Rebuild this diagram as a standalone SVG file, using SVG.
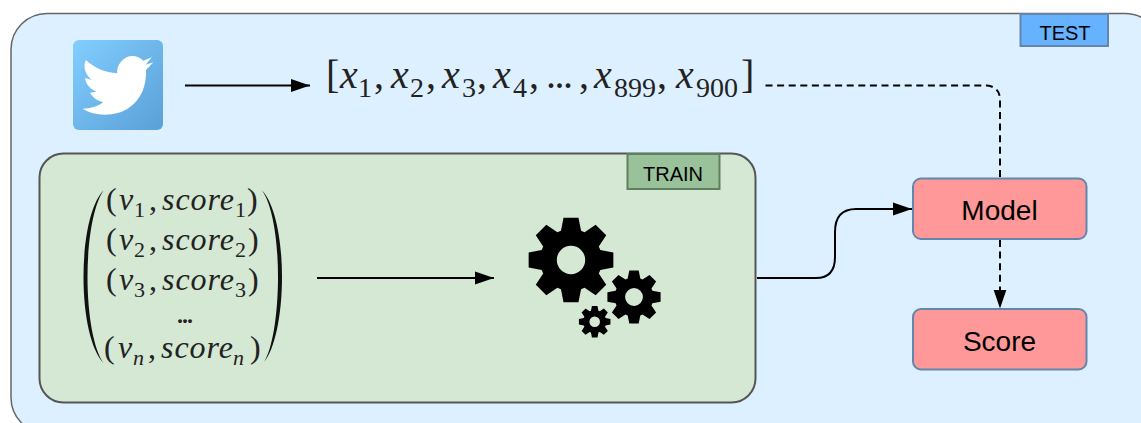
<svg xmlns="http://www.w3.org/2000/svg" xmlns:xlink="http://www.w3.org/1999/xlink" width="1141" height="423" viewBox="0 0 1141 423">
<style>
text{fill:#000;font-family:"Liberation Sans",Arial,sans-serif}
.m{font-family:"Liberation Serif","Times New Roman",serif;fill:#222}
.i{font-style:italic}
.x{font-size:40px}
.s{font-size:28px}
.v{font-size:32px}
.r{font-size:22px}
.box{fill:#FF9999;stroke:#6385AE;stroke-width:2}
.lab{font-size:28px;text-anchor:middle}
.tag{font-size:20px;text-anchor:middle}
.c{fill:none;stroke:#000;stroke-width:2}
.d{stroke-dasharray:7 4.6}
</style>
<defs>
<linearGradient id="tw" x1="0" y1="0" x2="1" y2="1"><stop offset="0" stop-color="#84CDFF"/><stop offset="1" stop-color="#58A0D6"/></linearGradient>
<marker id="a" markerUnits="userSpaceOnUse" markerWidth="20" markerHeight="14" refX="19" refY="7" orient="auto"><path d="M0 0.5L19 7L0 13.5Z" fill="#000"/></marker>
<path id="g" fill-rule="evenodd" d="M68.1-23.4L98.5-17.4L98.5 17.4L68.1 23.4L64.7 31.6L81.9 57.4L57.4 81.9L31.6 64.7L23.4 68.1L17.4 98.5L-17.4 98.5L-23.4 68.1L-31.6 64.7L-57.4 81.9L-81.9 57.4L-64.7 31.6L-68.1 23.4L-98.5 17.4L-98.5-17.4L-68.1-23.4L-64.7-31.6L-81.9-57.4L-57.4-81.9L-31.6-64.7L-23.4-68.1L-17.4-98.5L17.4-98.5L23.4-68.1L31.6-64.7L57.4-81.9L81.9-57.4L64.7-31.6ZM33 0A33 33 0 1 0-33 0A33 33 0 1 0 33 0Z"/>
</defs>
<g id="test">
<rect x="11" y="13.5" width="1150" height="420" rx="36" fill="#DDF0FF" stroke="#666" stroke-width="1.5"/>
<rect x="1020.5" y="14" width="87.5" height="32" fill="#66B2FF" stroke="#6385AE" stroke-width="2"/>
<text class="tag" x="1065" y="39.5">TEST</text>
</g>
<g id="twitter">
<rect x="73" y="40" width="90" height="90" rx="6" fill="url(#tw)"/>
<path transform="translate(60 30) scale(.33333)" fill="#fff" d="M68 236C100 258 165 262 205 235C245 208 260 165 258 120L280 97L257 104L275 82L250 92C235 76 205 72 188 90C175 103 170 115 172 130C135 128 100 112 78 90C68 108 75 132 95 150L75 144C78 165 92 178 110 185L90 188C100 205 115 213 130 216C112 230 90 236 68 236Z"/>
</g>
<g id="vector">
<text class="m x" x="326" y="88">[</text>
<text class="m i x" x="340" y="88">x</text><text class="m s" x="358" y="97">1</text><text class="m x" x="374" y="88">,</text>
<text class="m i x" x="391" y="88">x</text><text class="m s" x="410" y="97">2</text><text class="m x" x="426" y="88">,</text>
<text class="m i x" x="442" y="88">x</text><text class="m s" x="462" y="97">3</text><text class="m x" x="477" y="88">,</text>
<text class="m i x" x="493" y="88">x</text><text class="m s" x="513" y="97">4</text><text class="m x" x="529" y="88">,</text>
<text class="m x" x="546" y="88" textLength="27" lengthAdjust="spacing">...</text><text class="m x" x="579" y="88">,</text>
<text class="m i x" x="594" y="88">x</text><text class="m s" x="614" y="97">899</text><text class="m x" x="657" y="88">,</text>
<text class="m i x" x="676" y="88">x</text><text class="m s" x="696" y="97">900</text>
<text class="m x" x="741" y="88">]</text>
</g>
<g id="train">
<rect x="39.5" y="153.5" width="716" height="249" rx="24" fill="#D5E8D4" stroke="#555" stroke-width="2"/>
<rect x="627.5" y="154" width="92" height="35" fill="#9AC29A" stroke="#5F7F5F" stroke-width="2"/>
<text class="tag" x="673" y="181">TRAIN</text>
</g>
<g id="matrix">
<path fill="#111" d="M103.5 190.5C91 203 83.5 238 83.5 277C83.5 316 91 350 103.5 363C94 350 87.5 316 87.5 277C87.5 238 94 204 103.5 190.5Z"/>
<path fill="#111" d="M262 190.5C274.500 203 282 238 282 277C282 316 274.500 350 264 362C272 350 278 316 278 277C278 238 272 204 262 190.5Z"/>
<text class="m v" x="106" y="210">(</text><text class="m i v" x="119" y="210">v</text><text class="m r" x="134" y="217">1</text><text class="m v" x="149" y="210">,</text><text class="m i v" x="162" y="210" textLength="72" lengthAdjust="spacing">score</text><text class="m r" x="235" y="217">1</text><text class="m v" x="247" y="210">)</text>
<text class="m v" x="106" y="250">(</text><text class="m i v" x="119" y="250">v</text><text class="m r" x="134" y="257">2</text><text class="m v" x="149" y="250">,</text><text class="m i v" x="162" y="250" textLength="72" lengthAdjust="spacing">score</text><text class="m r" x="235" y="257">2</text><text class="m v" x="248" y="250">)</text>
<text class="m v" x="106" y="290">(</text><text class="m i v" x="119" y="290">v</text><text class="m r" x="134" y="297">3</text><text class="m v" x="149" y="290">,</text><text class="m i v" x="162" y="290" textLength="72" lengthAdjust="spacing">score</text><text class="m r" x="235" y="297">3</text><text class="m v" x="248" y="290">)</text>
<text class="m v" x="176" y="323" textLength="18" lengthAdjust="spacing">...</text>
<text class="m v" x="104" y="358">(</text><text class="m i v" x="118" y="358">v</text><text class="m i r" x="133" y="365">n</text><text class="m v" x="148" y="358">,</text><text class="m i v" x="161" y="358" textLength="72" lengthAdjust="spacing">score</text><text class="m i r" x="233" y="365">n</text><text class="m v" x="250" y="358">)</text>
</g>
<g id="gears">
<use xlink:href="#g" href="#g" transform="translate(571 260) scale(.43)"/>
<use xlink:href="#g" href="#g" transform="translate(634 297) scale(.27)"/>
<use xlink:href="#g" href="#g" transform="translate(594.700 321.700) scale(.16)"/>
</g>
<g id="model"><rect class="box" x="913" y="178.500" width="173.500" height="60.500" rx="8"/><text class="lab" x="999.500" y="220">Model</text></g>
<g id="score"><rect class="box" x="913" y="309" width="173.500" height="60.500" rx="8"/><text class="lab" x="999.500" y="351">Score</text></g>
<g id="connectors">
<path class="c" d="M185 85.500H310" marker-end="url(#a)"/>
<path class="c" d="M317 278H494" marker-end="url(#a)"/>
<path class="c" d="M757 278H816Q835 278 835 257V232Q835 209 856 209H912" marker-end="url(#a)"/>
<path class="c d" d="M765.500 85.500H987Q1000 87 1000 100V177"/>
<path class="c d" d="M1000 240V308.500" marker-end="url(#a)"/>
</g>
</svg>
